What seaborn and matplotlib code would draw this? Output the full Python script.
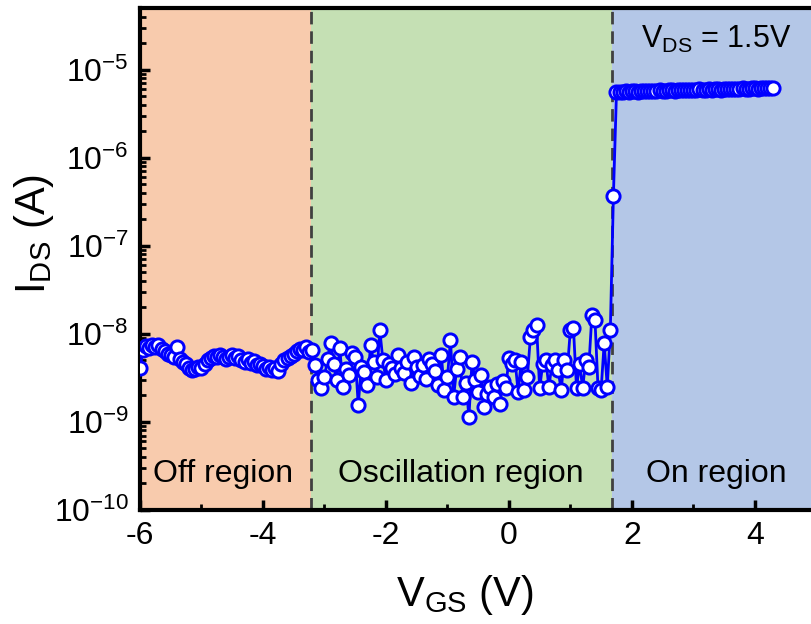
import matplotlib
matplotlib.use("Agg")
import matplotlib.pyplot as plt
import numpy as np
import pandas as pd
import seaborn as sns
from matplotlib.ticker import LogLocator, MultipleLocator, LogFormatterMathtext, NullFormatter

# Gate sweep: -6 V upwards in 0.05 V steps
vgs_start = -6.0
vgs_step = 0.05

# Drain current, in nA
ids_off_na = [4.1, 6.6, 7.3, 6.9, 7.5, 7.1, 7.4, 6.8, 6.3, 5.9,
              5.7, 5.5, 7.0, 5.2, 4.8, 4.5, 4.1, 3.9, 4.0, 4.2,
              4.1, 4.6, 5.1, 5.3, 5.6, 5.4, 5.8, 5.5, 5.2, 5.4,
              5.7, 5.3, 5.6, 5.0, 4.8, 5.2, 4.7, 4.9, 4.4, 4.6,
              4.3, 4.0, 4.2, 3.9, 4.1, 3.8, 4.5, 5.0, 5.3, 5.6,
              5.9, 6.4, 6.8, 6.5, 7.0, 6.2, 6.6]
ids_osc_na = [4.4, 3.0, 2.4, 3.2, 5.2, 7.9, 4.5, 3.0, 6.9, 2.5,
              4.0, 3.4, 6.0, 5.5, 1.56, 4.2, 3.7, 2.6, 7.5, 4.8,
              3.2, 11.1, 5.1, 3.0, 4.6, 4.1, 3.5, 5.8, 4.1, 3.6,
              4.8, 2.8, 5.5, 4.2, 3.3, 4.4, 3.1, 5.2, 4.6, 3.8,
              2.6, 5.8, 2.3, 3.2, 8.5, 1.9, 4.0, 5.5, 1.9, 2.8,
              1.14, 4.8, 3.0, 2.2, 3.4, 1.48, 2.1, 2.5, 1.9, 2.7,
              1.6, 2.9, 2.4, 5.3, 4.6, 5.0, 2.2, 4.8, 2.3, 3.2,
              9.2, 11.1, 12.5, 2.4, 4.5, 5.1, 2.5, 4.4, 5.1, 3.9,
              2.3, 5.1, 3.9, 11.1, 11.7, 2.4, 4.6, 2.4, 5.1, 4.2,
              16.4, 14.5, 2.4, 2.3, 7.9, 2.5, 11.1, 370]
ids_on_na = [5500, 5600, 5550, 5650, 5600, 5700, 5650, 5600, 5700, 5750,
             5650, 5700, 5750, 5700, 5800, 5750, 5700, 5800, 5850, 5750,
             5800, 5850, 5800, 5900, 5850, 5800, 5900, 5950, 5850, 5900,
             5950, 5900, 6000, 5950, 5900, 6000, 6050, 5950, 6000, 6050,
             6000, 6100, 6050, 6000, 6100, 6150, 6050, 6100, 6150, 6100,
             6200, 6150]

# Region boundaries and labels
x_min, x_max = -6.0, 4.93
off_end = -3.22
on_start = 1.67
region_labels = ["Off region", "Oscillation region", "On region"]
region_label_x = [-4.65, -0.78, 3.38]
region_colors = ["#F8CBAD", "#C5E0B4", "#B4C7E7"]

ids_na = ids_off_na + ids_osc_na + ids_on_na
vgs = np.round(vgs_start + vgs_step * np.arange(len(ids_na)), 2)
df = pd.DataFrame({"VGS": vgs, "IDS": np.array(ids_na) * 1e-9})

sns.set_theme(style="ticks")
plt.rcParams["font.family"] = ["Liberation Sans", "DejaVu Sans"]
plt.rcParams["mathtext.fontset"] = "custom"
plt.rcParams["mathtext.rm"] = "Liberation Sans"
plt.rcParams["mathtext.it"] = "Liberation Sans:italic"
plt.rcParams["axes.unicode_minus"] = False
plt.rcParams["text.color"] = "black"
plt.rcParams["axes.labelcolor"] = "black"
plt.rcParams["xtick.color"] = "black"
plt.rcParams["ytick.color"] = "black"

fig = plt.figure(figsize=(8.12, 6.24), dpi=100)
ax = fig.add_axes([0.1724, 0.1827, 0.8276, 0.8045])

# shaded regions + dashed borders
bounds = [x_min, off_end, on_start, x_max]
for i in range(3):
    ax.axvspan(bounds[i], bounds[i + 1], color=region_colors[i], lw=0, zorder=0)
for xb in [off_end, on_start]:
    ax.axvline(xb, color="#404040", lw=2, ls=(0, (4.5, 2.5)), zorder=1)

sns.lineplot(data=df, x="VGS", y="IDS", ax=ax, estimator=None, color="#0000FF",
             lw=2, marker="o", markersize=9.5, markerfacecolor="white",
             markeredgecolor="#0000FF", markeredgewidth=2.1, zorder=3)

ax.set_yscale("log")
ax.set_xlim(x_min, x_max)
ax.set_ylim(1e-10, 5e-5)

ax.xaxis.set_major_locator(MultipleLocator(2))
ax.xaxis.set_minor_locator(MultipleLocator(1))
ax.yaxis.set_major_locator(LogLocator(base=10))
ax.yaxis.set_minor_locator(LogLocator(base=10, subs=np.arange(2, 10)))
ax.yaxis.set_major_formatter(LogFormatterMathtext())
ax.yaxis.set_minor_formatter(NullFormatter())

ax.tick_params(which="major", direction="in", length=7, width=2.5, labelsize=23,
               pad=8, top=False, right=False, color="black", labelcolor="black")
ax.tick_params(which="minor", direction="in", length=4, width=2, top=False, right=False)

for side in ["left", "bottom", "top"]:
    ax.spines[side].set_linewidth(3)
    ax.spines[side].set_color("black")
ax.spines["right"].set_visible(False)

ax.set_xlabel(r"$\mathregular{V_{GS}}$ (V)", fontsize=30, color="black")
ax.set_ylabel(r"$\mathregular{I_{DS}}$ (A)", fontsize=30, color="black")
ax.xaxis.set_label_coords(0.484, -0.125)
ax.yaxis.set_label_coords(-0.125, 0.55)

for label, xt in zip(region_labels, region_label_x):
    ax.text(xt, 2.1e-10, label, fontsize=23, ha="center", va="baseline",
            color="black", zorder=4)
ax.text(3.38, 1.78e-5, r"$\mathregular{V_{DS}}$ = 1.5V", fontsize=22,
        ha="center", va="baseline", color="black", zorder=4)

fig.savefig("out.png", dpi=100)
plt.close(fig)
